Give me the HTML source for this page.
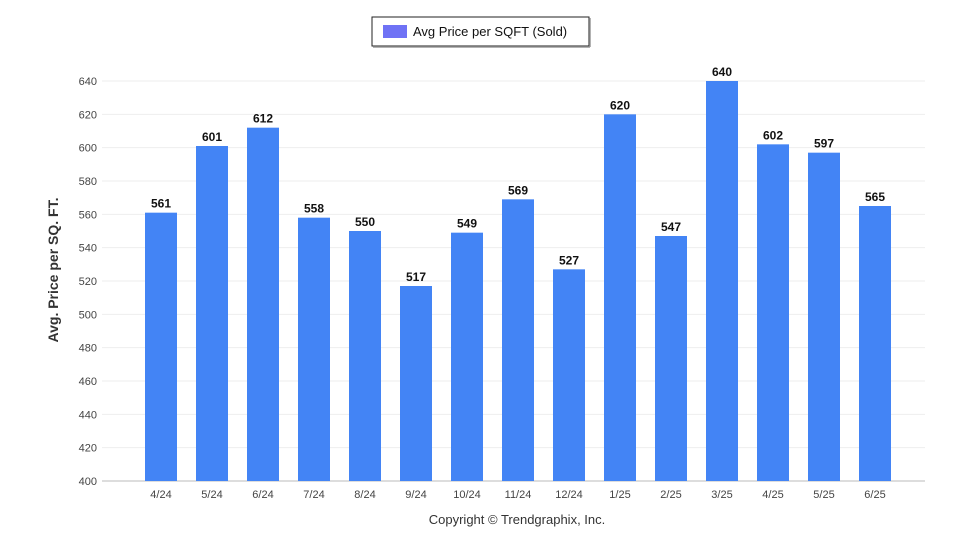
<!DOCTYPE html>
<html><head><meta charset="utf-8"><style>
body{margin:0;background:#fff;font-family:"Liberation Sans",Arial,sans-serif}
svg text{font-family:"Liberation Sans",Arial,sans-serif}
</style></head><body>
<svg id="chart" width="960" height="550" viewBox="0 0 960 550">
<g>
<rect x="372" y="17" width="217" height="29" fill="#fff" stroke="#222" stroke-width="1"/>
<line x1="590" y1="18" x2="590" y2="47" stroke="#999" stroke-width="1.5"/>
<line x1="373" y1="47" x2="590" y2="47" stroke="#999" stroke-width="1.5"/>
<rect x="383" y="25" width="24" height="13" fill="#6f72f5"/>
<text x="413" y="36" font-size="13" fill="#111">Avg Price per SQFT (Sold)</text>
</g>
<g id="grid"></g>
<g id="bars"></g>
<text transform="translate(58,270) rotate(-90)" text-anchor="middle" font-size="14" font-weight="bold" fill="#333">Avg. Price per SQ. FT.</text>
<text x="517" y="524" text-anchor="middle" font-size="13" fill="#333">Copyright © Trendgraphix, Inc.</text>
</svg>
<script>
const categories=["4/24","5/24","6/24","7/24","8/24","9/24","10/24","11/24","12/24","1/25","2/25","3/25","4/25","5/25","6/25"];
const values=[561,601,612,558,550,517,549,569,527,620,547,640,602,597,565];
const yTicks=[400,420,440,460,480,500,520,540,560,580,600,620,640];
const NS="http://www.w3.org/2000/svg";
const yMin=400,yMax=640,yTop=81,yBot=481;
function y(v){return yBot-(v-yMin)/(yMax-yMin)*(yBot-yTop);}
function x(i){return 161+i*51;}
const grid=document.getElementById('grid'),bars=document.getElementById('bars');
function mk(tag,attrs,parent,txt){const e=document.createElementNS(NS,tag);for(const k in attrs)e.setAttribute(k,attrs[k]);if(txt!==undefined)e.textContent=txt;parent.appendChild(e);return e;}
yTicks.forEach(t=>{
 const l=mk('line',{x1:102,x2:925,y1:y(t),y2:y(t),stroke:t===400?'#ddd':'#eee','stroke-width':t===400?2:1},grid);
 
 
 const tx=mk('text',{x:97,y:y(t)+4,'text-anchor':'end','font-size':11,fill:'#444'},grid,t);
 
 
});
categories.forEach((c,i)=>{
 const v=values[i];
 const r=mk('rect',{x:x(i)-16,y:y(v),width:32,height:yBot-y(v),fill:'#4384f5'},bars);
 
 
 const lb=mk('text',{x:x(i),y:y(v)-5,'text-anchor':'middle','font-size':12,'font-weight':'bold',fill:'#111'},bars,v);
 
 
 const xl=mk('text',{x:x(i),y:498,'text-anchor':'middle','font-size':11,fill:'#444'},bars,c);
 
 
});
</script>
</body></html>
